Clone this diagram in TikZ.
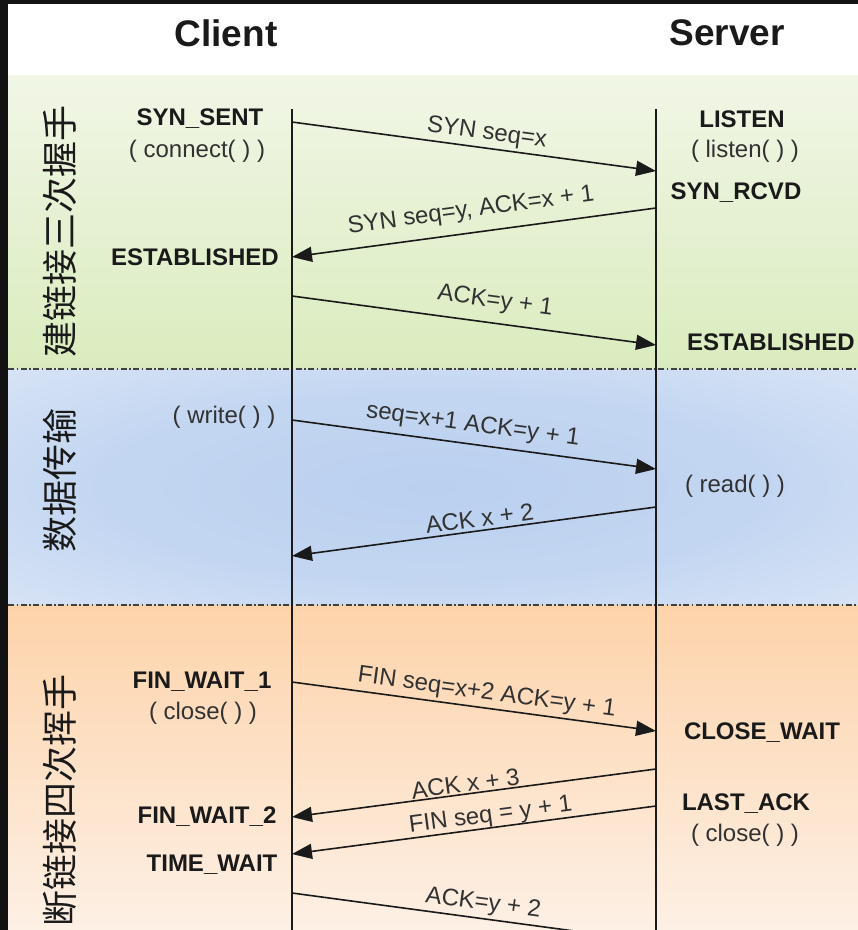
\documentclass[tikz,border=0pt]{standalone}
\usepackage{fontspec}
\setmainfont{Liberation Sans}
\newfontfamily\cjk{Noto Sans CJK SC}
\usetikzlibrary{arrows.meta}
\definecolor{frame}{RGB}{18,18,18}
\definecolor{gtop}{RGB}{241,246,230}
\definecolor{gbot}{RGB}{218,236,190}
\definecolor{bin}{RGB}{186,208,239}
\definecolor{bout}{RGB}{233,239,250}
\definecolor{otop}{RGB}{253,211,170}
\definecolor{omid}{RGB}{253,226,201}
\definecolor{obot}{RGB}{253,240,229}
\definecolor{ink}{RGB}{26,26,26}
\definecolor{soft}{RGB}{50,50,50}
\pgfdeclareradialshading{bluerad}{\pgfpoint{0bp}{0bp}}{color(0bp)=(bin); color(20bp)=(bin!80!bout); color(50bp)=(bout); color(70bp)=(bout)}
\begin{document}
\begin{tikzpicture}[x=1pt,y=-1pt,
  state/.style={font=\fontsize{24}{28}\selectfont\bfseries, text=ink, inner sep=0pt},
  func/.style={font=\fontsize{24}{28}\selectfont, text=soft, inner sep=0pt},
  msg/.style={-{Triangle[length=20pt,width=15pt]}, line width=1.6pt, draw=ink},
  msglabel/.style={font=\fontsize{24}{28}\selectfont, text=soft, sloped, above, inner sep=3pt},
  lifeline/.style={line width=1.6pt, draw=ink},
  sep/.style={line width=1.5pt, draw=black!75, dash pattern=on 6pt off 2.5pt on 1.5pt off 2.5pt},
  phase/.style={font=\cjk\fontsize{36}{40}\selectfont, rotate=90, text=ink, inner sep=0pt},
  head/.style={font=\fontsize{37}{42}\selectfont\bfseries, text=ink, inner sep=0pt}
]
\useasboundingbox (0,0) rectangle (858,930);
\clip (0,0) rectangle (858,930);
% frame and backgrounds
\fill[frame] (0,0) rectangle (858,930);
\fill[white] (8,4) rectangle (858,75);
\shade[top color=gtop, bottom color=gbot] (8,75) rectangle (858,369);
\shade[shading=bluerad] (8,369) rectangle (858,605);
\shade[top color=otop, middle color=omid, bottom color=obot] (8,605) rectangle (858,930);
\draw[sep] (8,369) -- (858,369);
\draw[sep] (8,605) -- (858,605);

% headers
\node[head] (client) at (226,33) {Client};
\node[head] (server) at (727,33) {Server};

% lifelines
\coordinate (ctop) at (292,109);
\coordinate (cbot) at (292,930);
\coordinate (stop) at (656,109);
\coordinate (sbot) at (656,930);
\draw[lifeline] (ctop) -- (cbot);
\draw[lifeline] (stop) -- (sbot);

% phase labels
\node[phase] (p1) at (60,231) {建链接三次握手};
\node[phase] (p2) at (60,480) {数据传输};
\node[phase] (p3) at (60,800) {断链接四次挥手};

% client states
\node[state] (synsent) at (200,119) {SYN\_SENT};
\node[func] (connect) at (197,151) {( connect( ) )};
\node[state] (cest) at (195,257) {ESTABLISHED};
\node[func] (write) at (224,417) {( write( ) )};
\node[state] (fw1) at (202,682) {FIN\_WAIT\_1};
\node[func] (cclose) at (203,713) {( close( ) )};
\node[state] (fw2) at (207,817) {FIN\_WAIT\_2};
\node[state] (tw) at (212,865) {TIME\_WAIT};

% server states
\node[state] (listen) at (742,119) {LISTEN};
\node[func] (flisten) at (745,151) {( listen( ) )};
\node[state] (synrcvd) at (736,193) {SYN\_RCVD};
\node[state] (sest) at (771,342) {ESTABLISHED};
\node[func] (read) at (735,486) {( read( ) )};
\node[state] (cw) at (762,733) {CLOSE\_WAIT};
\node[state] (lastack) at (746,804) {LAST\_ACK};
\node[func] (sclose) at (745,835) {( close( ) )};

% message endpoints
\coordinate (m1a) at (292,122); \coordinate (m1b) at (656,171);
\coordinate (m2a) at (656,208); \coordinate (m2b) at (292,257);
\coordinate (m3a) at (292,296); \coordinate (m3b) at (656,345);
\coordinate (m4a) at (292,420); \coordinate (m4b) at (656,469);
\coordinate (m5a) at (656,507); \coordinate (m5b) at (292,556);
\coordinate (m6a) at (292,682); \coordinate (m6b) at (656,731);
\coordinate (m7a) at (656,769); \coordinate (m7b) at (292,817);
\coordinate (m8a) at (656,806); \coordinate (m8b) at (292,854);
\coordinate (m9a) at (292,893); \coordinate (m9b) at (656,942);

\draw[msg] (m1a) -- (m1b) node[msglabel, pos=0.53] (l1) {SYN seq=x};
\draw[msg] (m2a) -- (m2b) node[msglabel, pos=0.50, inner sep=10pt] (l2) {SYN seq=y, ACK=x + 1};
\draw[msg] (m3a) -- (m3b) node[msglabel, pos=0.55, inner sep=10pt] (l3) {ACK=y + 1};
\draw[msg] (m4a) -- (m4b) node[msglabel, pos=0.49, inner sep=7pt] (l4) {seq=x+1 ACK=y + 1};
\draw[msg] (m5a) -- (m5b) node[msglabel, pos=0.48] (l5) {ACK x + 2};
\draw[msg] (m6a) -- (m6b) node[msglabel, pos=0.53] (l6) {FIN seq=x+2 ACK=y + 1};
\draw[msg] (m7a) -- (m7b) node[msglabel, pos=0.52, inner sep=1pt] (l7) {ACK x + 3};
\draw[msg] (m8a) -- (m8b) node[msglabel, pos=0.45, inner sep=0pt] (l8) {FIN seq = y + 1};
\draw[msg] (m9a) -- (m9b) node[msglabel, pos=0.52] (l9) {ACK=y + 2};
\end{tikzpicture}
\end{document}
